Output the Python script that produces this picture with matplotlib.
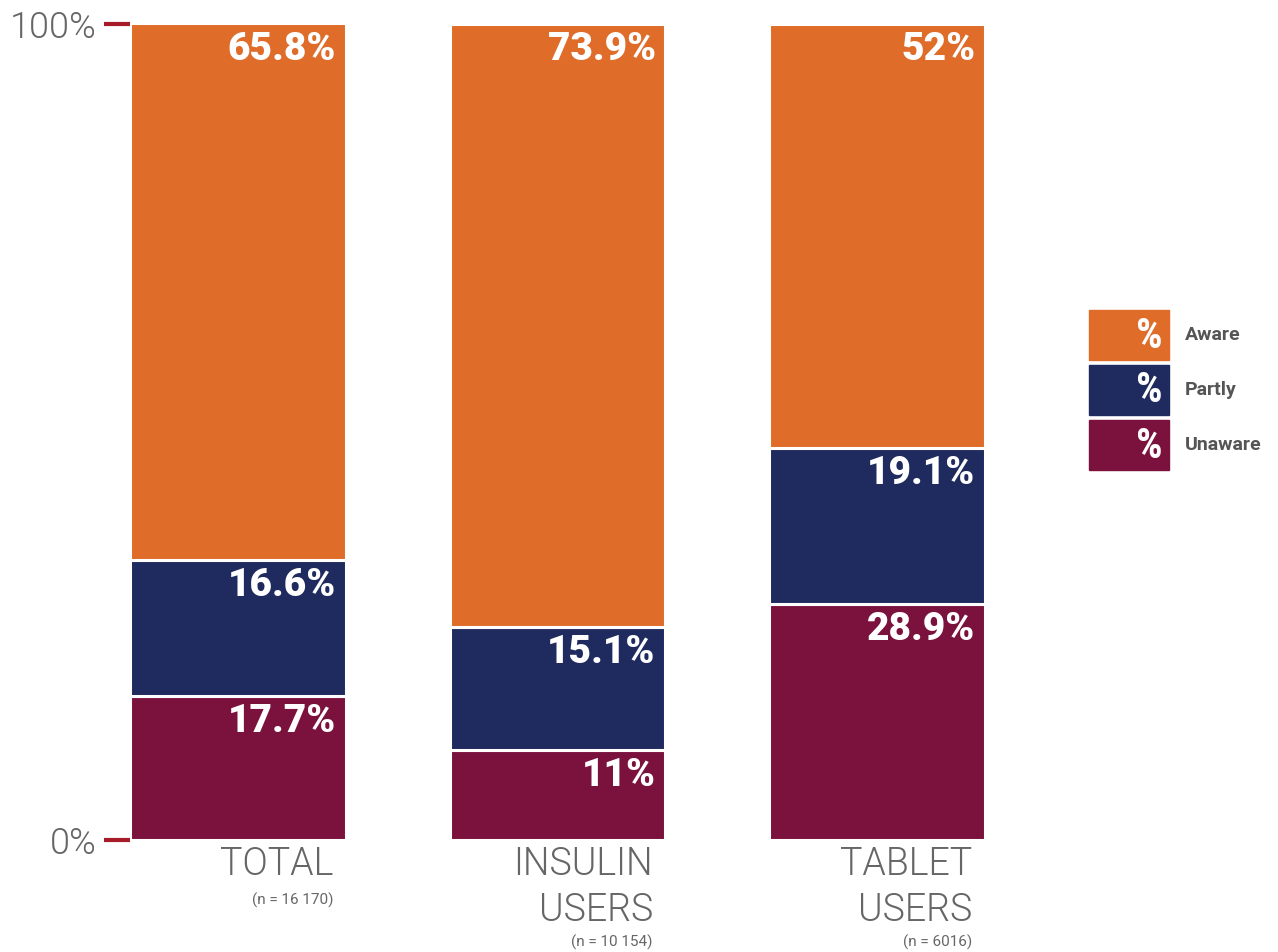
import matplotlib
matplotlib.use("Agg")
import matplotlib.pyplot as plt
from matplotlib import font_manager
from matplotlib.patches import Rectangle

# --------------------------
# Data
# --------------------------
groups = ["TOTAL", "INSULIN\nUSERS", "TABLET\nUSERS"]
sample_sizes = ["(n = 16 170)", "(n = 10 154)", "(n = 6016)"]
series = ["Aware", "Partly", "Unaware"]
aware = [65.8, 73.9, 52]
partly = [16.6, 15.1, 19.1]
unaware = [17.7, 11, 28.9]
value_labels = {
    "Aware": ["65.8%", "73.9%", "52%"],
    "Partly": ["16.6%", "15.1%", "19.1%"],
    "Unaware": ["17.7%", "11%", "28.9%"],
}
colors = {"Aware": "#df6c29", "Partly": "#1f2b5e", "Unaware": "#7b123d"}
grey = "#666666"
fam = ["Roboto", "DejaVu Sans"]

# pick a light weight font for the axis / category labels if one exists
light_font = None
for fname in ["Roboto", "Open Sans", "Lato", "Inter"]:
    for f in font_manager.fontManager.ttflist:
        if f.name == fname and f.weight == 300 and f.style == "normal":
            light_font = font_manager.FontProperties(fname=f.fname)
            break
    if light_font is not None:
        break
if light_font is None:
    light_font = font_manager.FontProperties(family="Roboto", weight="normal")
label_color = grey

# --------------------------
# Figure
# --------------------------
W, H, DPI = 1278, 952, 100
fig = plt.figure(figsize=(W / DPI, H / DPI), dpi=DPI)
ax = fig.add_axes([130 / W, 1 - 840 / H, (985 - 130) / W, (840 - 24) / H])

x = list(range(len(groups)))
width = 0.675
stack_order = [("Unaware", unaware), ("Partly", partly), ("Aware", aware)]
bottoms = [0.0] * len(groups)
for name, vals in stack_order:
    bars = ax.bar(x, vals, width=width, bottom=bottoms, color=colors[name],
                  edgecolor="white", linewidth=2.2)
    for i, b in enumerate(bars):
        top = min(bottoms[i] + vals[i], 100)
        ax.annotate(value_labels[name][i], xy=(b.get_x() + b.get_width(), top),
                    xytext=(-7, -5), textcoords="offset points",
                    ha="right", va="top", color="white", fontsize=28,
                    fontweight="heavy", family=fam, annotation_clip=False)
    bottoms = [bottoms[i] + vals[i] for i in range(len(groups))]

ax.set_xlim(-width / 2, len(groups) - 1 + width / 2)
ax.set_ylim(0, 100)
ax.set_yticks([0, 100])
ax.set_yticklabels(["0%", "100%"], color=label_color)
for t in ax.get_yticklabels():
    t.set_fontproperties(light_font)
    t.set_fontsize(26)
ax.tick_params(axis="y", length=19, width=3, color="#a81c2a", pad=5)
ax.set_xticks([])
for s in ax.spines.values():
    s.set_visible(False)

# category labels under the bars
for i, (g, n) in enumerate(zip(groups, sample_sizes)):
    xr = i + width / 2
    t = ax.annotate(g, xy=(xr, 0), xytext=(-9, -4), textcoords="offset points",
                    ha="right", va="top", color=label_color,
                    linespacing=1.28, annotation_clip=False)
    t.set_fontproperties(light_font)
    t.set_fontsize(27)
    nlines = g.count("\n") + 1
    ax.annotate(n, xy=(xr, 0), xytext=(-9, -38 - 30 * (nlines - 1)),
                textcoords="offset points", ha="right", va="top",
                fontsize=11, color=grey, family=fam,
                annotation_clip=False)

# --------------------------
# Legend (manual)
# --------------------------
box_w, box_h = 80, 50
for k, name in enumerate(series):
    top = 310 + k * 55
    fig.patches.append(Rectangle((1089 / W, 1 - (top + box_h) / H), box_w / W, box_h / H,
                                 transform=fig.transFigure, color=colors[name]))
    fig.text(1163 / W, 1 - (top + box_h / 2 + 1) / H, "%", ha="right", va="center",
             color="white", fontsize=30, fontweight="bold",
             family=["Roboto Condensed", "Roboto", "DejaVu Sans"])
    fig.text(1185 / W, 1 - (top + box_h / 2) / H, name, ha="left", va="center",
             color="#555555", fontsize=14, fontweight="bold", family=fam)

fig.savefig("out.png", dpi=DPI)
